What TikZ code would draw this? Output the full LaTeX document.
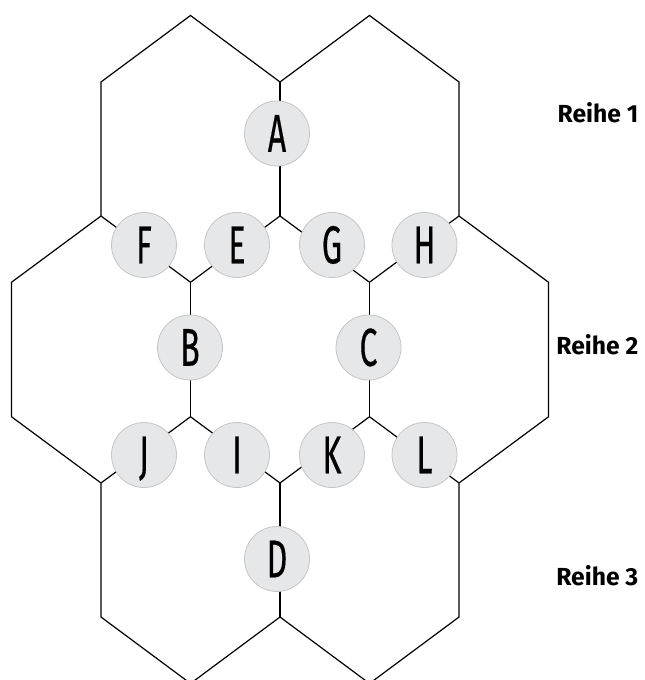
\documentclass[tikz,border=0pt]{standalone}
\usepackage{fontspec}
\usepackage{graphicx}
\setmainfont{Fira Sans}
\newfontfamily\letterfont{Fira Sans}[FakeBold=0.5]
\definecolor{circfill}{HTML}{E6E7E8}
\definecolor{circdraw}{HTML}{C4C5C7}
\newcommand{\condletter}[1]{\scalebox{0.6}[1]{#1}}
\begin{document}
\begin{tikzpicture}[x=0.75pt,y=-0.75pt,
  hexline/.style={line width=0.9pt, line join=miter, draw=black},
  letter/.style={circle, fill=circfill, draw=circdraw, line width=0.6pt,
    minimum size=48.75pt, inner sep=0pt,
    font=\letterfont\fontsize{40}{40}\selectfont, text height=27.5pt, text depth=0pt},
  rowlabel/.style={anchor=base east, font=\bfseries\fontsize{18.5}{20}\selectfont}]
\useasboundingbox (0,0) rectangle (644,680);
\clip (0,0) rectangle (644,680);
% hex grid vertices: columns and levels
\def\XA{11.5}\def\XB{101}\def\XC{190.5}\def\XD{280}\def\XE{369.5}\def\XF{459}\def\XG{548.5}
\def\LA{15.5}\def\LB{82}\def\LC{216}\def\LD{282.25}\def\LE{416.75}\def\LF{483}\def\LG{617}\def\LH{683.5}
\coordinate (c0) at (\XC,\LA);
\coordinate (e0) at (\XE,\LA);
\coordinate (b1) at (\XB,\LB);
\coordinate (d1) at (\XD,\LB);
\coordinate (f1) at (\XF,\LB);
\coordinate (b2) at (\XB,\LC);
\coordinate (d2) at (\XD,\LC);
\coordinate (f2) at (\XF,\LC);
\coordinate (a3) at (\XA,\LD);
\coordinate (c3) at (\XC,\LD);
\coordinate (e3) at (\XE,\LD);
\coordinate (g3) at (\XG,\LD);
\coordinate (a4) at (\XA,\LE);
\coordinate (c4) at (\XC,\LE);
\coordinate (e4) at (\XE,\LE);
\coordinate (g4) at (\XG,\LE);
\coordinate (b5) at (\XB,\LF);
\coordinate (d5) at (\XD,\LF);
\coordinate (f5) at (\XF,\LF);
\coordinate (b6) at (\XB,\LG);
\coordinate (d6) at (\XD,\LG);
\coordinate (f6) at (\XF,\LG);
\coordinate (c7) at (\XC,\LH);
\coordinate (e7) at (\XE,\LH);
% outer hexagon edges
\draw[hexline] (b2) -- (b1) -- (c0) -- (d1) -- (e0) -- (f1) -- (f2);
\draw[hexline] (b2) -- (a3) -- (a4) -- (b5) -- (b6) -- (c7) -- (d6) -- (e7) -- (f6) -- (f5) -- (g4) -- (g3) -- (f2);
% inner edges (carrying the letters)
\draw[hexline] (d1) -- (d2);
\draw[hexline] (b2) -- (c3) -- (d2) -- (e3) -- (f2);
\draw[hexline] (c3) -- (c4);
\draw[hexline] (e3) -- (e4);
\draw[hexline] (b5) -- (c4) -- (d5) -- (e4) -- (f5);
\draw[hexline] (d5) -- (d6);
% letter nodes
\node[letter] (A) at (277,133.5) {\condletter{A}};
\node[letter] (F) at (144,245) {\condletter{F}};
\node[letter] (E) at (237,245) {\condletter{E}};
\node[letter] (G) at (332,245) {\condletter{G}};
\node[letter] (H) at (424.5,245) {\condletter{H}};
\node[letter] (B) at (190,347.5) {\condletter{B}};
\node[letter] (C) at (368.5,347.5) {\condletter{C}};
\node[letter] (J) at (144,455) {\condletter{J}};
\node[letter] (I) at (237,455) {\condletter{I}};
\node[letter] (K) at (332,455) {\condletter{K}};
\node[letter] (L) at (424.5,455) {\condletter{L}};
\node[letter] (D) at (277,559) {\condletter{D}};
% row labels
\node[rowlabel] (r1) at (643,123) {Reihe 1};
\node[rowlabel] (r2) at (643,354) {Reihe 2};
\node[rowlabel] (r3) at (643,585) {Reihe 3};
\end{tikzpicture}
\end{document}
